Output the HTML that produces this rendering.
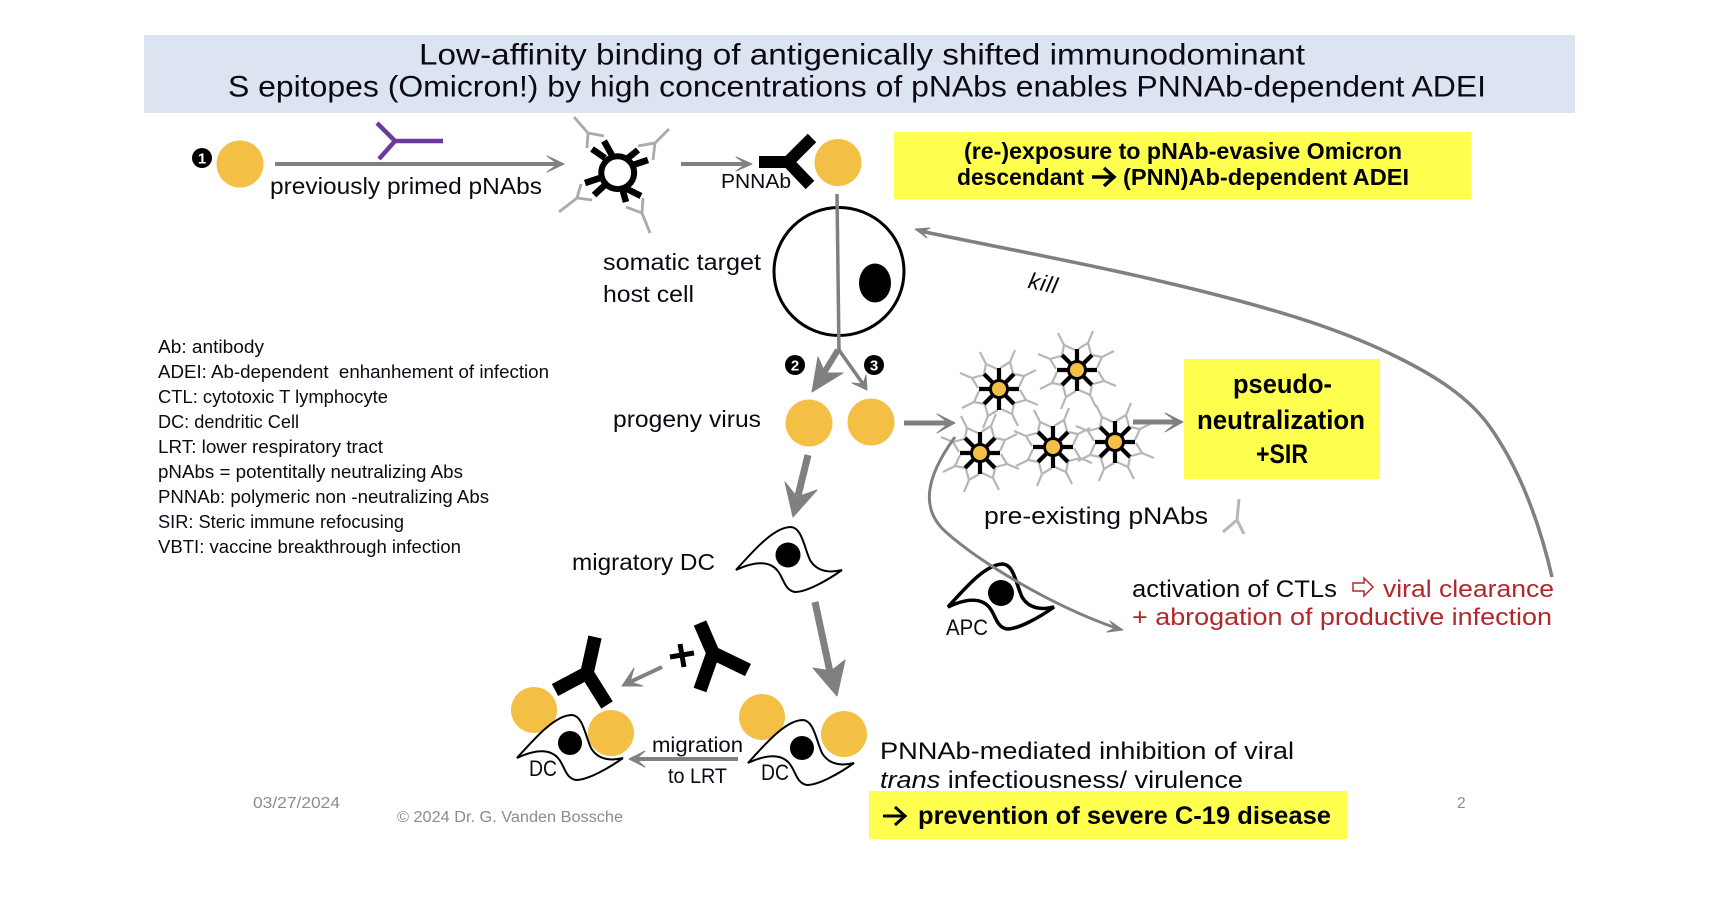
<!DOCTYPE html>
<html lang="en"><head><meta charset="utf-8"><title>ADEI diagram</title>
<style>
html,body{margin:0;padding:0;background:#fff;width:1724px;height:916px;overflow:hidden}
svg{display:block}
text{font-family:"Liberation Sans",sans-serif;fill:#0a0a14}
.b{font-weight:bold;fill:#000}
.r{fill:#b2282a}
.g{fill:#8c8c8c}
.l{fill:none;stroke:#808080;stroke-width:4}
.c{fill:none;stroke:#808080;stroke-width:3.5;stroke-linejoin:miter}
.h{fill:#808080;stroke:#808080;stroke-width:1;stroke-linejoin:round}
.y{fill:#f4bf45}
.ab{fill:none;stroke:#b6b6b6;stroke-width:2.200}
.abk{fill:none;stroke:#000;stroke-linecap:butt}
</style></head><body>
<svg width="1724" height="916" viewBox="0 0 1724 916" xmlns="http://www.w3.org/2000/svg">
<defs>
<g id="pair">
<path class="ab" d="M-19-37L-13-25M-15-15L-13-25L-2-20"/>
<path class="ab" d="M16-39L11-27M14-16L11-27L1-21"/>
</g>
<g id="star">
<use href="#pair"/><use href="#pair" transform="rotate(90)"/><use href="#pair" transform="rotate(180)"/><use href="#pair" transform="rotate(270)"/>
<path d="M-20 0H20M0-21V21M-15-15L15 15M15-15L-15 15" stroke="#000" stroke-width="4.200" fill="none"/>
<circle r="8.500" fill="#f4bf45" stroke="#000" stroke-width="3"/>
</g>
<path id="dc" d="M0 0C18-20 38-43 55-43C66-42 68-23 74-10C81 2 94 3 106 0C92 10 71 22 59 22C48 20 48 8 41 0C34-8 21-10 0 0Z"/>
</defs>
<rect width="1724" height="916" fill="#fff"/>

<rect x="144" y="35" width="1431" height="78" fill="#dce3f1"/>
<text x="419" y="64.500" font-size="30" textLength="886" lengthAdjust="spacingAndGlyphs" fill="#222">Low-affinity binding of antigenically shifted immunodominant</text>
<text x="228" y="96.500" font-size="30" textLength="1258" lengthAdjust="spacingAndGlyphs" fill="#222">S epitopes (Omicron!) by high concentrations of pNAbs enables PNNAb-dependent ADEI</text>

<!-- row 1 -->
<circle cx="202" cy="158" r="10" fill="#000"/>
<text x="202" y="163.500" font-size="15" class="b" text-anchor="middle" style="fill:#fff">1</text>
<circle cx="240" cy="164" r="23.5" class="y"/>
<path d="M377 123L395 141M379 159L395 141H443" fill="none" stroke="#6a3a9c" stroke-width="4.500"/>
<path class="l" d="M275 164H557"/>
<polygon class="h" points="564,164 547,156 558,164 547,172"/>
<text x="270" y="194" font-size="23.500" textLength="272" lengthAdjust="spacingAndGlyphs">previously primed pNAbs</text>

<path class="ab" style="stroke-width:2.800;stroke:#aaa" d="M574 117L588 133M604 136L588 133L587 148M669 129L655 143M638 146L655 143L653 160M559 212L577 198M592 200L577 198L581 184M650 233L642 213M626 207L642 213L643 198"/>
<path d="M604 141L613 157M592 149L605 158M638 150L628 158M648 160L633 165M641 196L625 188M626 202L622 188M594 195L605 185M585 183L600 178" stroke="#000" stroke-width="6.500" fill="none"/>
<circle cx="617.700" cy="172.700" r="16.400" fill="#fff" stroke="#000" stroke-width="6"/>

<path class="l" d="M681 164H746"/>
<polygon class="h" points="752,164 736,157 746,164 736,171"/>
<path class="abk" stroke-width="12" d="M759 162H788M812 138L788 162L810 185"/>
<text x="721" y="188" font-size="20" textLength="70" lengthAdjust="spacingAndGlyphs">PNNAb</text>
<circle cx="838" cy="162.500" r="23.500" class="y"/>

<rect x="894" y="132" width="577" height="67" fill="#ffff50"/>
<text x="964" y="159" font-size="23" class="b" textLength="438" lengthAdjust="spacingAndGlyphs">(re-)exposure to pNAb-evasive Omicron</text>
<text x="957" y="185" font-size="23" class="b" textLength="127" lengthAdjust="spacingAndGlyphs">descendant</text>
<path d="M1092 177H1113M1104 168L1114 177L1104 186" fill="none" stroke="#000" stroke-width="3.500"/>
<text x="1123" y="185" font-size="23" class="b" textLength="286" lengthAdjust="spacingAndGlyphs">(PNN)Ab-dependent ADEI</text>

<!-- host cell -->
<ellipse cx="839" cy="271.500" rx="65" ry="64" fill="#fff" stroke="#000" stroke-width="3"/>
<ellipse cx="875" cy="283" rx="16" ry="19.500" fill="#000"/>
<path class="l" style="stroke-width:3.500" d="M837 194L839 352"/>
<text x="603" y="270" font-size="23" textLength="158" lengthAdjust="spacingAndGlyphs">somatic target</text>
<text x="603" y="302" font-size="23" textLength="91" lengthAdjust="spacingAndGlyphs">host cell</text>

<!-- legend -->
<g font-size="18">
<text x="158" y="353" textLength="106" lengthAdjust="spacingAndGlyphs">Ab: antibody</text>
<text x="158" y="378" textLength="391" lengthAdjust="spacingAndGlyphs" xml:space="preserve">ADEI: Ab-dependent  enhanhement of infection</text>
<text x="158" y="403" textLength="230" lengthAdjust="spacingAndGlyphs">CTL: cytotoxic T lymphocyte</text>
<text x="158" y="428" textLength="141" lengthAdjust="spacingAndGlyphs">DC: dendritic Cell</text>
<text x="158" y="453" textLength="225" lengthAdjust="spacingAndGlyphs">LRT: lower respiratory tract</text>
<text x="158" y="478" textLength="305" lengthAdjust="spacingAndGlyphs">pNAbs = potentitally neutralizing Abs</text>
<text x="158" y="503" textLength="331" lengthAdjust="spacingAndGlyphs">PNNAb: polymeric non -neutralizing Abs</text>
<text x="158" y="528" textLength="246" lengthAdjust="spacingAndGlyphs">SIR: Steric immune refocusing</text>
<text x="158" y="553" textLength="303" lengthAdjust="spacingAndGlyphs">VBTI: vaccine breakthrough infection</text>
</g>

<!-- fork -->
<path class="l" style="stroke-width:6" d="M838 350L822 376"/>
<polygon class="h" points="812,392 818,357 825,373 843,373"/>
<path class="l" style="stroke-width:3.500" d="M839 350L863 384"/>
<polygon class="h" points="867,390 852,383 863,384 866,375"/>
<circle cx="795" cy="365" r="10" fill="#000"/>
<text x="795" y="370.500" font-size="15" class="b" text-anchor="middle" style="fill:#fff">2</text>
<circle cx="874" cy="365" r="10" fill="#000"/>
<text x="874" y="370.500" font-size="15" class="b" text-anchor="middle" style="fill:#fff">3</text>

<text x="613" y="427" font-size="23" textLength="148" lengthAdjust="spacingAndGlyphs">progeny virus</text>
<circle cx="809" cy="423" r="23.500" class="y"/>
<circle cx="871" cy="422" r="23.500" class="y"/>

<path class="l" style="stroke-width:5" d="M904 423H950"/>
<polygon class="h" points="955,423 937,414 949,423 937,433"/>

<!-- star cluster -->
<use href="#star" x="999" y="389"/>
<use href="#star" x="1077" y="370"/>
<use href="#star" x="980" y="453"/>
<use href="#star" x="1053" y="447"/>
<use href="#star" x="1115" y="442"/>

<path class="l" style="stroke-width:5" d="M1133 422H1178"/>
<polygon class="h" points="1183,422 1165,413 1177,422 1165,432"/>

<rect x="1184" y="359" width="196" height="120" fill="#ffff50"/>
<text x="1233" y="393" font-size="27" class="b" textLength="99" lengthAdjust="spacingAndGlyphs">pseudo-</text>
<text x="1197" y="429" font-size="27" class="b" textLength="168" lengthAdjust="spacingAndGlyphs">neutralization</text>
<text x="1256" y="463" font-size="27" class="b" textLength="52" lengthAdjust="spacingAndGlyphs">+SIR</text>

<text x="984" y="524" font-size="24" textLength="224" lengthAdjust="spacingAndGlyphs">pre-existing pNAbs</text>
<path class="ab" style="stroke-width:3" d="M1239 499L1237 520M1223 532L1237 520L1244 534"/>

<!-- kill curve -->
<path class="c" d="M1552 577C1540 525 1521 471 1490 427C1468 396 1433 375 1399 358C1347 332 1292 315 1236 300C1132 272 1026 253 920 231"/>
<polygon class="h" points="915,229 930,228 922,232 927,238"/>
<text x="1028" y="291" font-size="23" font-style="italic" letter-spacing="0.800" transform="rotate(12 1043 285)">kill</text>

<!-- migratory DC -->
<path class="l" style="stroke-width:7" d="M808 455L798 496"/>
<polygon class="h" points="793,517 785,482 797,497 817,490"/>
<use href="#dc" x="736" y="570" fill="#fff" stroke="#000" stroke-width="2"/>
<circle cx="788" cy="555" r="12.500" fill="#000"/>
<text x="572" y="570" font-size="23" textLength="143" lengthAdjust="spacingAndGlyphs">migratory DC</text>

<!-- APC -->
<use href="#dc" x="948" y="607" fill="#fff" stroke="#000" stroke-width="3.500"/>
<circle cx="1001" cy="593" r="13" fill="#000"/>
<text x="946" y="635" font-size="22" textLength="42" lengthAdjust="spacingAndGlyphs">APC</text>
<path class="c" style="stroke-width:3" d="M955 437C925 478 920 510 947 533C980 562 1050 605 1116 628"/>

<text x="1132" y="597" font-size="24" textLength="205" lengthAdjust="spacingAndGlyphs">activation of CTLs</text>
<polygon points="1353,583 1364,583 1364,578 1373,587 1364,596 1364,591 1353,591" fill="#fff" stroke="#b2282a" stroke-width="1.500"/>
<text x="1383" y="597" font-size="24" class="r" textLength="171" lengthAdjust="spacingAndGlyphs">viral clearance</text>
<text x="1132" y="625" font-size="24" class="r" textLength="420" lengthAdjust="spacingAndGlyphs">+ abrogation of productive infection</text>
<polygon class="h" points="1123,630 1110,621 1115,628 1107,632"/>

<!-- big arrow down -->
<path class="l" style="stroke-width:7" d="M815 602L830 672"/>
<polygon class="h" points="837,696 813,668 831,671 845,660"/>

<!-- bottom group -->
<path class="abk" stroke-width="13.500" d="M595 637L587 673M555 690L587 673L607 705"/>
<path class="abk" stroke-width="13.500" d="M700 623L713 653M748 670L713 653L700 690"/>
<path d="M670 657L694 653M680 644L684 667" stroke="#000" stroke-width="5" fill="none"/>
<path class="l" d="M662 667L628 683"/>
<polygon class="h" points="622,686 634,668 630,682 643,686"/>

<circle cx="534" cy="710" r="23" class="y"/>
<circle cx="762" cy="717" r="23" class="y"/>
<circle cx="611" cy="733" r="23" class="y"/>
<circle cx="844" cy="734" r="23" class="y"/>
<use href="#dc" x="517" y="758" fill="none" stroke="#000" stroke-width="2"/>
<use href="#dc" x="748" y="763" fill="none" stroke="#000" stroke-width="2"/>
<circle cx="570" cy="743" r="12" fill="#000"/>
<circle cx="802" cy="748" r="12" fill="#000"/>
<text x="529" y="776" font-size="22" textLength="28" lengthAdjust="spacingAndGlyphs">DC</text>
<text x="761" y="780" font-size="22" textLength="28" lengthAdjust="spacingAndGlyphs">DC</text>

<path class="l" d="M738 759H634"/>
<polygon class="h" points="629,759 645,751 636,759 645,767"/>
<text x="652" y="752" font-size="21" textLength="91" lengthAdjust="spacingAndGlyphs">migration</text>
<text x="668" y="783" font-size="21" textLength="59" lengthAdjust="spacingAndGlyphs">to LRT</text>

<text x="880" y="759" font-size="24" textLength="414" lengthAdjust="spacingAndGlyphs">PNNAb-mediated inhibition of viral</text>
<text x="880" y="788" font-size="24" textLength="363" lengthAdjust="spacingAndGlyphs"><tspan font-style="italic">trans</tspan> infectiousness/ virulence</text>
<rect x="869" y="791" width="478" height="48" fill="#ffff50"/>
<path d="M883 816H904M895 807L905 816L895 825" fill="none" stroke="#000" stroke-width="3"/>
<text x="918" y="824" font-size="25" class="b" textLength="413" lengthAdjust="spacingAndGlyphs">prevention of severe C-19 disease</text>

<text x="253" y="808" font-size="15.500" class="g" textLength="87" lengthAdjust="spacingAndGlyphs">03/27/2024</text>
<text x="397" y="822" font-size="15.500" class="g" textLength="226" lengthAdjust="spacingAndGlyphs">© 2024 Dr. G. Vanden Bossche</text>
<text x="1457" y="808" font-size="15.500" class="g">2</text>
</svg>
</body></html>
